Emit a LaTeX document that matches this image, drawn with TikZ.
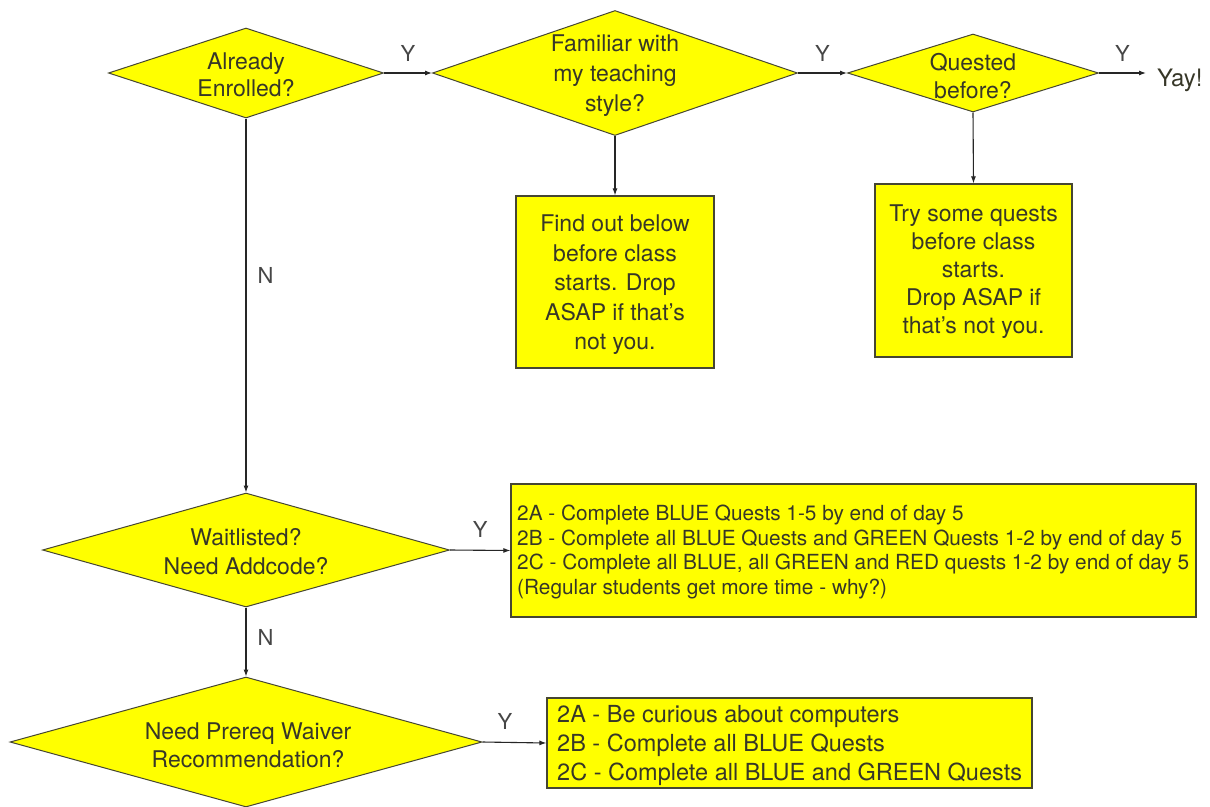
\documentclass[tikz,border=0pt]{standalone}
\usepackage{fontspec}
\setmainfont{TeX Gyre Heros}
\usetikzlibrary{arrows.meta,shapes.geometric}
\definecolor{yel}{RGB}{255,255,0}
\definecolor{edge}{RGB}{70,70,50}
\definecolor{ink}{RGB}{55,55,40}
\definecolor{lab}{RGB}{70,70,70}
\begin{document}
\begin{tikzpicture}[x=1pt,y=-1pt,
  dec/.style={diamond, draw=edge, fill=yel, line width=1pt, inner sep=0pt},
  boxy/.style={rectangle, draw=edge, fill=yel, line width=1.2pt, inner sep=0pt},
  txt/.style={text=ink, align=center, inner sep=0pt, font=\fontsize{23}{28}\selectfont},
  ltxt/.style={text=ink, align=left, inner sep=0pt, anchor=west},
  arr/.style={draw=black!85, line width=1.1pt, -{Latex[length=7pt,width=5pt]}},
  yn/.style={text=lab, inner sep=0pt, font=\fontsize{22}{22}\selectfont}]
\useasboundingbox (0,0) rectangle (1210,806);
\fill[white] (0,0) rectangle (1210,806);

% decisions
\node[dec, minimum width=275pt, minimum height=90pt] (d1) at (246,73) {};
\node[txt, font=\fontsize{23}{27}\selectfont] (d1t) at (246,75) {Already\\Enrolled?};
\node[dec, minimum width=365pt, minimum height=125pt] (d2) at (615,73) {};
\node[txt, font=\fontsize{23}{30}\selectfont] (d2t) at (615,76) {Familiar with\\my teaching\\style?};
\node[dec, minimum width=251pt, minimum height=78pt] (d3) at (973,73) {};
\node[txt] (d3t) at (973,76) {Quested\\before?};
\node[dec, minimum width=407pt, minimum height=114pt] (d4) at (246,550) {};
\node[txt, font=\fontsize{23}{29}\selectfont] (d4t) at (246,552) {Waitlisted?\\Need Addcode?};
\node[dec, minimum width=472pt, minimum height=130pt] (d5) at (246,742) {};
\node[txt] (d5t) at (248,745) {Need Prereq Waiver\\Recommendation?};

% outcome
\node[text=ink, inner sep=0pt, anchor=base west, font=\fontsize{24}{24}\selectfont] (yay) at (1157,86) {Yay!};
\coordinate (yayin) at (1146,73);

% boxes
\node[boxy, minimum width=198pt, minimum height=172pt] (b1) at (615,282) {};
\node[txt, font=\fontsize{23}{29.5}\selectfont] (b1t) at (615,285) {Find out below\\before class\\starts. Drop\\ASAP if that's\\not you.};
\node[boxy, minimum width=197pt, minimum height=173pt] (b2) at (973.5,270.5) {};
\node[txt] (b2t) at (973.5,272) {Try some quests\\before class\\starts.\\Drop ASAP if\\that's not you.};
\node[boxy, minimum width=685pt, minimum height=133pt] (b3) at (853.5,550.5) {};
\node[ltxt, font=\fontsize{20.8}{24.5}\selectfont] (b3t) at (517,552) {2A - Complete BLUE Quests 1-5 by end of day 5\\2B - Complete all BLUE Quests and GREEN Quests 1-2 by end of day 5\\2C - Complete all BLUE, all GREEN and RED quests 1-2 by end of day 5\\(Regular students get more time - why?)};
\node[boxy, minimum width=485pt, minimum height=90pt] (b4) at (789.5,743) {};
\node[ltxt, font=\fontsize{23.5}{29}\selectfont] (b4t) at (557,745) {2A - Be curious about computers\\2B - Complete all BLUE Quests\\2C - Complete all BLUE and GREEN Quests};

% connectors
\draw[arr] (d1.east) -- node[yn, above=11pt] (y1) {Y} (d2.west);
\draw[arr] (d2.east) -- node[yn, above=11pt] (y2) {Y} (d3.west);
\draw[arr] (d3.east) -- node[yn, above=11pt] (y3) {Y} (yayin);
\draw[arr] (d2.south) -- (b1.north);
\draw[arr] (d3.south) -- (b2.north);
\draw[arr] (d1.south) -- node[yn, pos=0.42, right=11pt] (n1) {N} (d4.north);
\draw[arr] (d4.east) -- node[yn, above=12pt] (y4) {Y} (b3.west);
\draw[arr] (d4.south) -- node[yn, pos=0.43, right=11pt] (n2) {N} (d5.north);
\draw[arr] (d5.east) -- node[yn, pos=0.35, above=12pt] (y5) {Y} (b4.west);
\end{tikzpicture}
\end{document}
